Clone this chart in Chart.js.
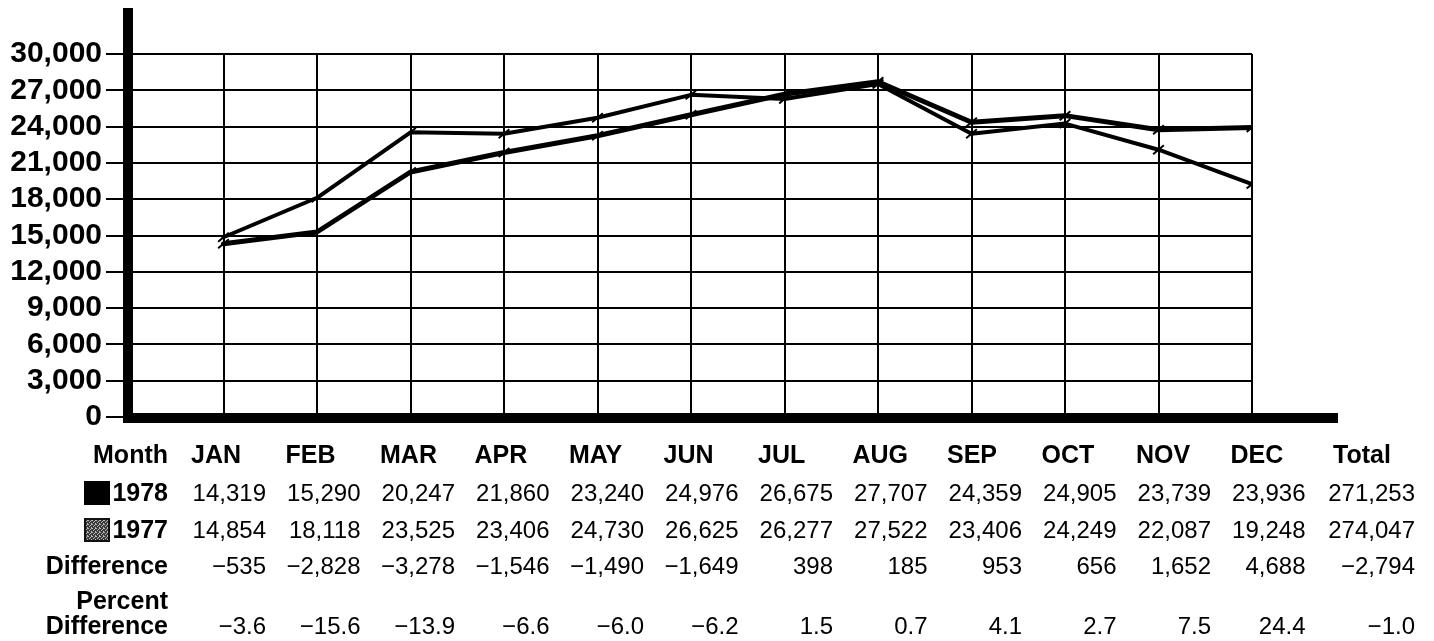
<!DOCTYPE html>
<html>
<head>
<meta charset="utf-8">
<title>Monthly Totals 1978 / 1977</title>
<script src="https://cdn.jsdelivr.net/npm/chart.js@4.4.1/dist/chart.umd.min.js"></script>
<style>
  html, body { margin: 0; padding: 0; background: #fff; }
  canvas { display: block; }
</style>
</head>
<body>
<canvas id="my-chart" width="1434" height="641"></canvas>
<script>
'use strict';

// ************** Data ***************

let months = ['JAN', 'FEB', 'MAR', 'APR', 'MAY', 'JUN', 'JUL', 'AUG', 'SEP', 'OCT', 'NOV', 'DEC'];
let values1978 = [14319, 15290, 20247, 21860, 23240, 24976, 26675, 27707, 24359, 24905, 23739, 23936];
let values1977 = [14854, 18118, 23525, 23406, 24730, 26625, 26277, 27522, 23406, 24249, 22087, 19248];
let differences = [-535, -2828, -3278, -1546, -1490, -1649, 398, 185, 953, 656, 1652, 4688];
let percentDifferences = [-3.6, -15.6, -13.9, -6.6, -6.0, -6.2, 1.5, 0.7, 4.1, 2.7, 7.5, 24.4];
let totals = [271253, 274047, -2794, -1.0]; // 1978, 1977, difference, percent
let yTickMax = 30000;
let yTickStep = 3000;

// ************** Helpers ***************

const FONT = '"Liberation Sans", Arial, Helvetica, sans-serif';
const MINUS = '\u2212';

function formatCount(n) {
  let s = Math.abs(n).toLocaleString('en-US');
  return n < 0 ? MINUS + s : s;
}

function formatPercent(n) {
  let s = Math.abs(n).toFixed(1);
  return n < 0 ? MINUS + s : s;
}

function toPoints(values) {
  return values.map((v, i) => ({ x: i + 1, y: v }));
}

// grey speckled swatch for 1977
function makeSwatchPattern(ctx) {
  let tile = document.createElement('canvas');
  tile.width = 4;
  tile.height = 4;
  let t = tile.getContext('2d');
  t.fillStyle = '#3a3a3a';
  t.fillRect(0, 0, 4, 4);
  t.fillStyle = '#b8b8b8';
  t.fillRect(0, 0, 1, 1);
  t.fillRect(2, 1, 1, 1);
  t.fillRect(1, 2, 1, 1);
  t.fillRect(3, 3, 1, 1);
  t.fillRect(3, 0, 1, 1);
  return ctx.createPattern(tile, 'repeat');
}

// ************** Plugins ***************

// heavy hand-inked axes: y bar runs above the grid, x bar runs past December
const heavyAxes = {
  id: 'heavyAxes',
  afterDraw(chart) {
    let ctx = chart.ctx;
    let area = chart.chartArea;
    ctx.save();
    ctx.fillStyle = '#000';
    ctx.fillRect(area.left - 7, 8, 10, area.bottom + 6 - 8);
    ctx.fillRect(area.left - 7, area.bottom - 4, area.right + 86 - (area.left - 7), 10);
    ctx.restore();
  }
};

// data table under the plot
const monthTable = {
  id: 'monthTable',
  afterDraw(chart) {
    let ctx = chart.ctx;
    let labelRight = 168;
    let firstRight = 266;
    let colStep = 94.5;
    let totalRight = 1415;
    let rows = { header: 463, y1978: 501, y1977: 538, diff: 574, pct1: 609, pct2: 634 };
    let bold = 'bold 25px ' + FONT;
    let plain = '24px ' + FONT;

    ctx.save();
    ctx.fillStyle = '#000';
    ctx.textBaseline = 'alphabetic';

    // row labels
    ctx.font = bold;
    ctx.textAlign = 'right';
    ctx.fillText('Month', labelRight, rows.header);
    ctx.fillText('1978', labelRight, rows.y1978);
    ctx.fillText('1977', labelRight, rows.y1977);
    ctx.fillText('Difference', labelRight, rows.diff);
    ctx.fillText('Percent', labelRight, rows.pct1);
    ctx.fillText('Difference', labelRight, rows.pct2);

    // legend swatches
    ctx.fillRect(84, rows.y1978 - 20, 26, 24);
    ctx.fillStyle = makeSwatchPattern(ctx);
    ctx.fillRect(84, rows.y1977 - 20, 26, 24);
    ctx.strokeStyle = '#111';
    ctx.lineWidth = 2;
    ctx.strokeRect(85, rows.y1977 - 19, 24, 22);
    ctx.fillStyle = '#000';

    // month headers
    ctx.textAlign = 'left';
    for (let i = 0; i < months.length; i++) {
      ctx.fillText(months[i], firstRight + colStep * i - 75, rows.header);
    }
    ctx.fillText('Total', totalRight - 82, rows.header);

    // values
    ctx.font = plain;
    ctx.textAlign = 'right';
    for (let i = 0; i < months.length; i++) {
      let r = firstRight + colStep * i;
      ctx.fillText(formatCount(values1978[i]), r, rows.y1978);
      ctx.fillText(formatCount(values1977[i]), r, rows.y1977);
      ctx.fillText(formatCount(differences[i]), r, rows.diff);
      ctx.fillText(formatPercent(percentDifferences[i]), r, rows.pct2);
    }
    ctx.fillText(formatCount(totals[0]), totalRight, rows.y1978);
    ctx.fillText(formatCount(totals[1]), totalRight, rows.y1977);
    ctx.fillText(formatCount(totals[2]), totalRight, rows.diff);
    ctx.fillText(formatPercent(totals[3]), totalRight, rows.pct2);

    ctx.restore();
  }
};

// ************** Chart ***************

let ctx = document.getElementById('my-chart').getContext('2d');

let lineStyle = {
  borderColor: '#000',
  backgroundColor: '#000',
  fill: false,
  tension: 0,
  borderJoinStyle: 'round',
  borderCapStyle: 'round',
  pointStyle: 'line',
  pointRadius: 7,
  pointBorderWidth: 2,
  pointRotation: -40,
  pointBorderColor: '#000'
};

let myChartObject = {
  type: 'line',
  data: {
    datasets: [
      Object.assign({ label: '1978', data: toPoints(values1978), borderWidth: 5 }, lineStyle),
      Object.assign({ label: '1977', data: toPoints(values1977), borderWidth: 4 }, lineStyle)
    ]
  },
  options: {
    responsive: false,
    animation: false,
    devicePixelRatio: 1,
    layout: {
      padding: { left: 0, top: 54, right: 182, bottom: 224 }
    },
    plugins: {
      legend: { display: false },
      tooltip: { enabled: false }
    },
    scales: {
      x: {
        type: 'linear',
        min: 0,
        max: months.length,
        ticks: { display: false, stepSize: 1 },
        grid: { color: '#000', lineWidth: 2, drawTicks: false },
        border: { display: false },
        afterFit(scale) { scale.height = 0; }
      },
      y: {
        min: 0,
        max: yTickMax,
        ticks: {
          stepSize: yTickStep,
          autoSkip: false,
          color: '#000',
          padding: 4,
          font: { family: FONT, size: 30, weight: 'bold' },
          callback: (v) => v.toLocaleString('en-US')
        },
        grid: { color: '#000', lineWidth: 2, tickLength: 24, tickColor: '#000', tickWidth: 2 },
        border: { display: false },
        afterFit(scale) { scale.width = 130; }
      }
    }
  },
  plugins: [heavyAxes, monthTable]
};

new Chart(ctx, myChartObject);
</script>
</body>
</html>
